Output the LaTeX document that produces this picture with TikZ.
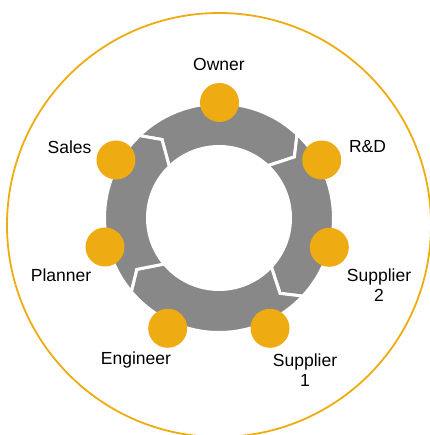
\documentclass[tikz,border=0pt]{standalone}
\usepackage{fontspec}
\setmainfont{Liberation Sans}
\definecolor{ringgray}{HTML}{888888}
\definecolor{dotorange}{HTML}{EEAB12}

\begin{document}
\begin{tikzpicture}[x=1pt,y=1pt]
\tikzset{dot/.style={circle, fill=dotorange, minimum size=39pt, inner sep=0pt}}
\tikzset{role/.style={font=\fontsize{17.5}{20}\selectfont, align=center, inner sep=0pt}}
\tikzset{seg/.style={fill=ringgray, draw=white, line width=3pt, line join=miter}}
\useasboundingbox (-219,-217) rectangle (210,218);
\draw[dotorange, line width=1.8pt] (0,-7) circle[radius=212];

% ring of four arrows, running clockwise
\filldraw[seg] (134:114.5) arc[start angle=134, end angle=47, radius=114.5] -- (39:97) -- (47:71.5)
  arc[start angle=47, end angle=134, radius=71.5] -- (126:97) -- cycle;
\filldraw[seg] (47:114.5) arc[start angle=47, end angle=-43, radius=114.5] -- (-51:97) -- (-43:71.5)
  arc[start angle=-43, end angle=47, radius=71.5] -- (39:97) -- cycle;
\filldraw[seg] (-43:114.5) arc[start angle=-43, end angle=-140, radius=114.5] -- (-148:97) -- (-140:71.5)
  arc[start angle=-140, end angle=-43, radius=71.5] -- (-51:97) -- cycle;
\filldraw[seg] (220:114.5) arc[start angle=220, end angle=134, radius=114.5] -- (126:97) -- (134:71.5)
  arc[start angle=134, end angle=220, radius=71.5] -- (212:97) -- cycle;

\node[dot] (owner) at (0.5,115.5) {};
\node[dot] (rd) at (102.7,58) {};
\node[dot] (sup2) at (110.3,-29.3) {};
\node[dot] (sup1) at (51,-110.3) {};
\node[dot] (eng) at (-51.3,-110.3) {};
\node[dot] (plan) at (-114,-29) {};
\node[dot] (sales) at (-103,58) {};

\node[role] (owner-l) at (0,154) {Owner};
\node[role] (rd-l) at (148.5,71) {R\&D};
\node[role] (sup2-l) at (160,-67) {Supplier\\2};
\node[role] (sup1-l) at (86,-152) {Supplier\\1};
\node[role] (eng-l) at (-83,-142) {Engineer};
\node[role] (plan-l) at (-158,-57) {Planner};
\node[role] (sales-l) at (-149.5,71) {Sales};
\end{tikzpicture}
\end{document}
